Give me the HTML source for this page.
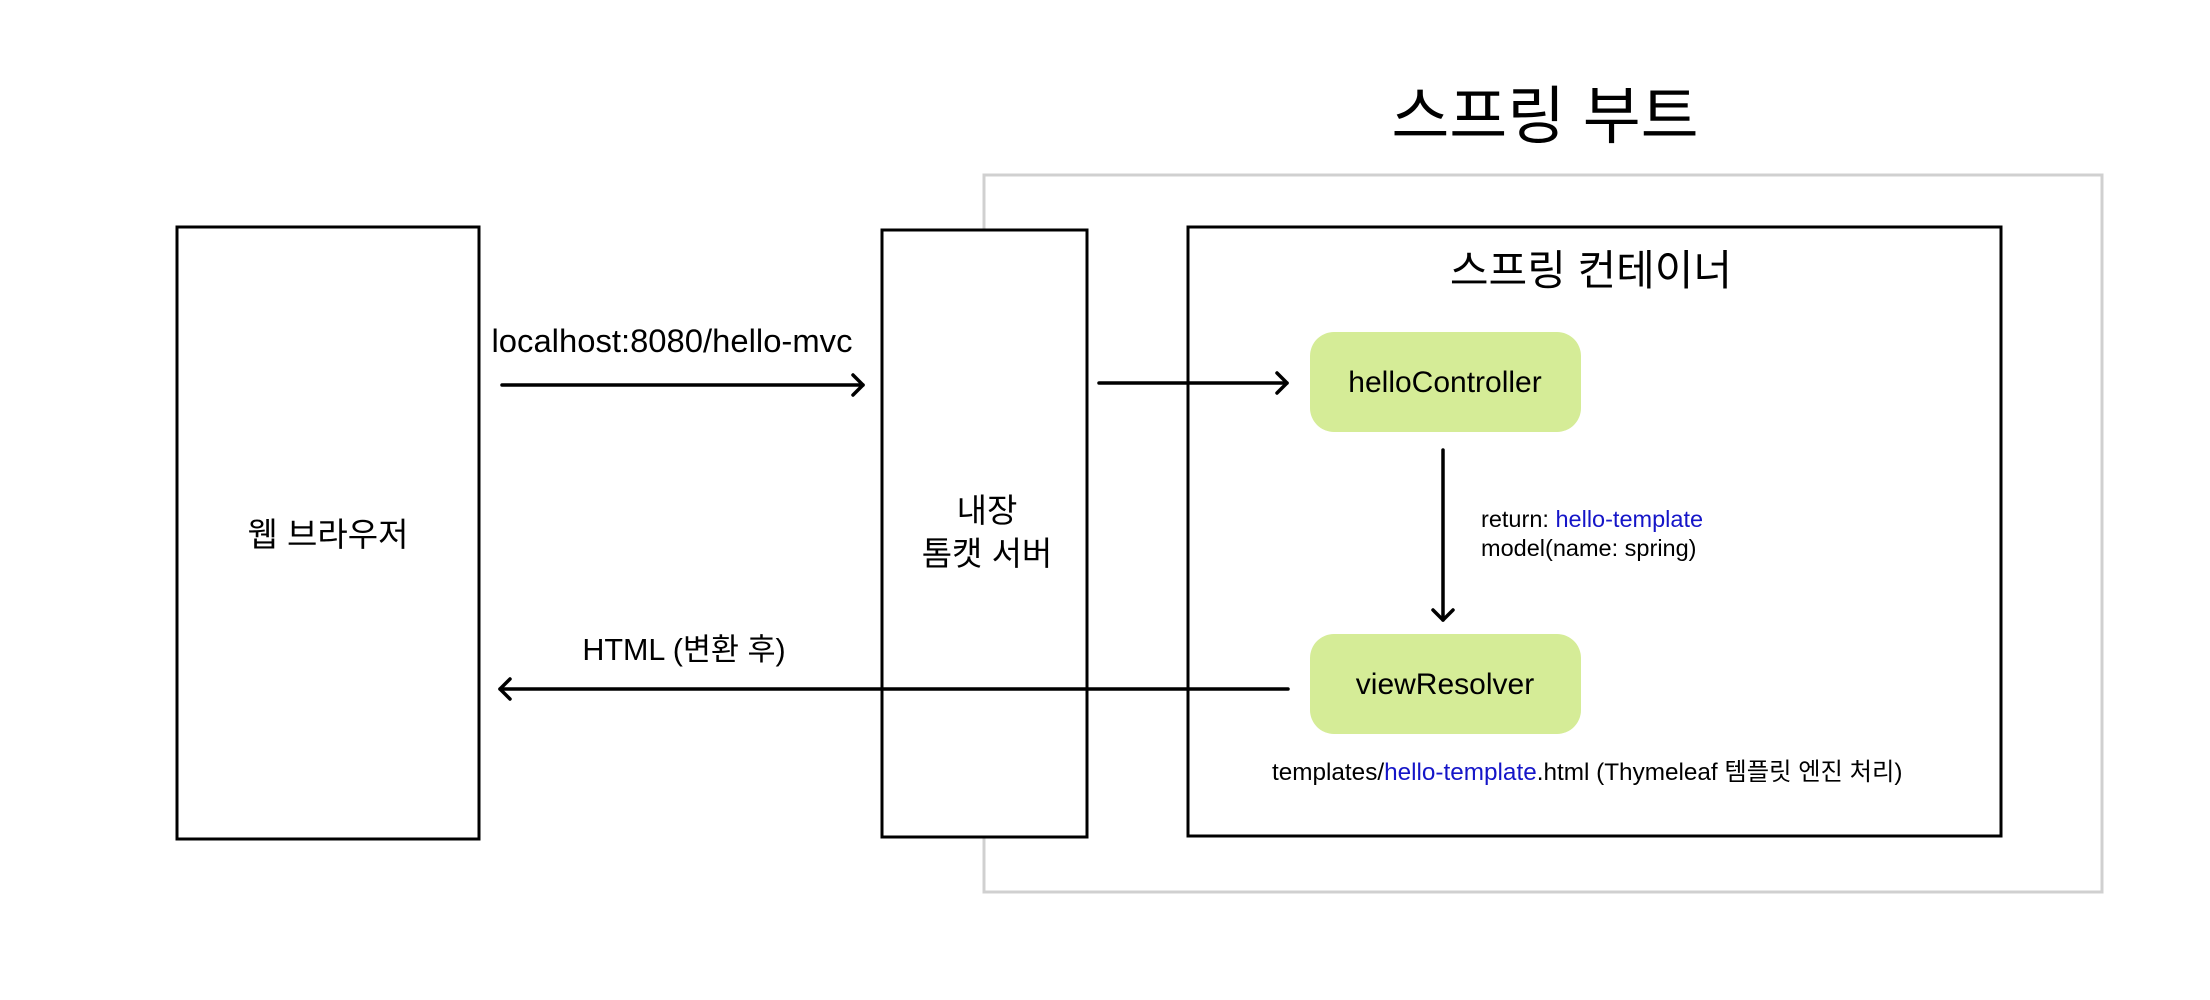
<!DOCTYPE html>
<html><head><meta charset="utf-8"><style>
html,body{margin:0;padding:0;background:#fff;}
svg{display:block;}
text{font-family:"Liberation Sans","Noto Sans CJK KR",sans-serif;fill:#000;}
</style></head><body>
<svg width="2210" height="1000" viewBox="0 0 2210 1000" xmlns="http://www.w3.org/2000/svg">
<rect x="0" y="0" width="2210" height="1000" fill="#fff"/>
<text x="1545" y="138" font-size="63" text-anchor="middle">스프링 부트</text>
<rect x="984" y="175" width="1118" height="717" fill="none" stroke="#d0d0d0" stroke-width="3"/>
<rect x="177" y="227" width="302" height="612" fill="#fff" stroke="#000" stroke-width="3"/>
<rect x="882" y="230" width="205" height="607" fill="#fff" stroke="#000" stroke-width="3"/>
<rect x="1188" y="227" width="813" height="609" fill="none" stroke="#000" stroke-width="3"/>
<text x="328" y="546" font-size="33" text-anchor="middle">웹 브라우저</text>
<text x="987" y="522" font-size="33" text-anchor="middle">내장</text>
<text x="987" y="565" font-size="33" text-anchor="middle">톰캣 서버</text>
<text x="1591" y="285" font-size="42" text-anchor="middle">스프링 컨테이너</text>
<text x="672" y="352" font-size="32.8" text-anchor="middle">localhost:8080/hello-mvc</text>
<text x="684" y="660" font-size="30.5" text-anchor="middle">HTML (변환 후)</text>
<rect x="1310" y="332" width="271" height="100" rx="24" fill="#d5ec97"/>
<rect x="1310" y="634" width="271" height="100" rx="24" fill="#d5ec97"/>
<text x="1445" y="392" font-size="30" text-anchor="middle">helloController</text>
<text x="1445" y="694" font-size="30" text-anchor="middle">viewResolver</text>
<text x="1481" y="527" font-size="23.5">return: <tspan fill="#1515c8">hello-template</tspan></text>
<text x="1481" y="556" font-size="23.5">model(name: spring)</text>
<text x="1272" y="780" font-size="24.3">templates/<tspan fill="#1515c8">hello-template</tspan>.html (Thymeleaf 템플릿 엔진 처리)</text>
<g stroke="#000" stroke-width="3.5" fill="none" stroke-linecap="round" stroke-linejoin="round">
<line x1="502" y1="385" x2="863" y2="385"/><polyline points="853,375 863,385 853,395"/>
<line x1="1099" y1="383" x2="1287" y2="383"/><polyline points="1277,373 1287,383 1277,393"/>
<line x1="1443" y1="450" x2="1443" y2="620"/><polyline points="1433,610 1443,620 1453,610"/>
<line x1="1288" y1="689" x2="500" y2="689"/><polyline points="510,679 500,689 510,699"/>
</g>
</svg>
</body></html>
